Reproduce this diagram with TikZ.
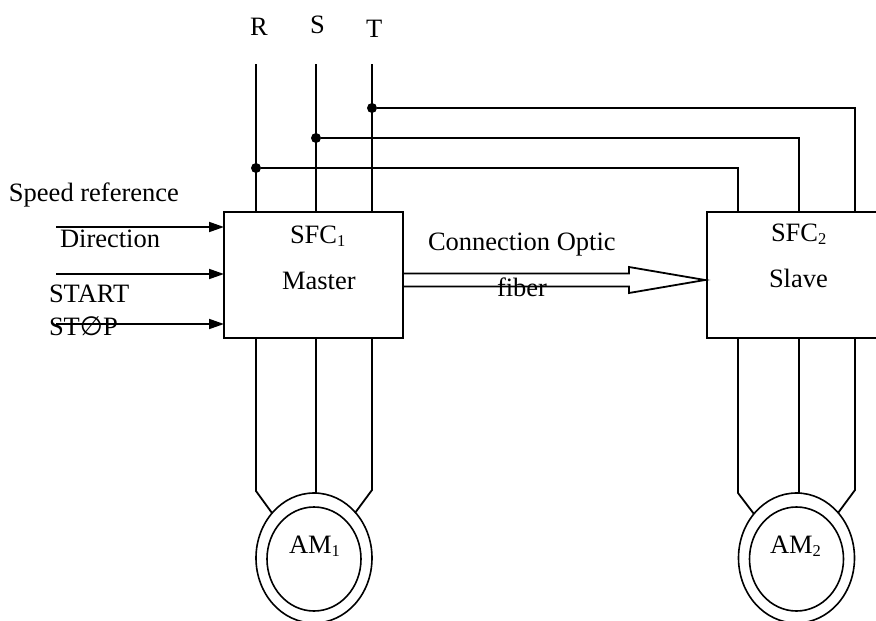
\documentclass[tikz,border=0pt]{standalone}
\usepackage{fontspec}
\setmainfont{Liberation Serif}
\newfontfamily\symbfont{DejaVu Sans}
\usetikzlibrary{arrows.meta,shapes.geometric}
\tikzset{
  wire/.style={line width=1.8pt,black},
  feed/.style={wire,-{Triangle[length=15pt,width=10pt]}},
  blockbox/.style={draw=black,line width=1.8pt,minimum width=179pt,minimum height=126pt,inner sep=0pt,outer sep=0pt},
  ringout/.style={draw=black,ellipse,line width=1.6pt,minimum width=116pt,minimum height=130pt,inner sep=0pt,outer sep=0pt},
  ringin/.style={draw=black,ellipse,line width=1.6pt,minimum width=94pt,minimum height=104pt,inner sep=0pt,outer sep=0pt},
  lbl/.style={anchor=base west,inner sep=0pt,outer sep=0pt,font=\fontsize{26.5pt}{28pt}\selectfont},
  junction/.style={circle,fill=black,minimum size=10pt,inner sep=0pt,outer sep=0pt}
}
\newcommand{\subs}[1]{\raisebox{-3.5pt}{\fontsize{16.5pt}{18pt}\selectfont #1}}
\begin{document}
\begin{tikzpicture}[x=1pt,y=-1pt]
\useasboundingbox (0,0) rectangle (876,621);
% blocks
\node[blockbox] (sfcA) at (313.5,275) {};
\node[blockbox,minimum width=176pt] (sfcB) at (795,275) {};
% motors
\node[ringout] (mA) at (314,558) {};
\node[ringin] (mAi) at (314,559) {};
\node[ringout] (mB) at (796.5,558) {};
\node[ringin] (mBi) at (796.5,559) {};
% supply junctions
\node[junction] (jR) at (256,168) {};
\node[junction] (jS) at (316,138) {};
\node[junction] (jT) at (372,108) {};
\coordinate (tR) at (256,64);
\coordinate (tS) at (316,64);
\coordinate (tT) at (372,64);
\coordinate (bR) at (256,212);
\coordinate (bS) at (316,212);
\coordinate (bT) at (372,212);
\draw[wire] (tR) -- (bR);
\draw[wire] (tS) -- (bS);
\draw[wire] (tT) -- (bT);
% branches to slave
\coordinate (cR) at (738,212);
\coordinate (cS) at (799,212);
\coordinate (cT) at (855,212);
\draw[wire] (jR) -| (cR);
\draw[wire] (jS) -| (cS);
\draw[wire] (jT) -| (cT);
% outputs to motors
\coordinate (oR) at (256,338);
\coordinate (oS) at (316,338);
\coordinate (oT) at (372,338);
\coordinate (kR) at (256,491);
\coordinate (kS) at (316,493);
\coordinate (kT) at (372,490);
\coordinate (eR) at (272,513);
\coordinate (eT) at (355,513);
\draw[wire] (oR) -- (kR) -- (eR);
\draw[wire] (oS) -- (kS);
\draw[wire] (oT) -- (kT) -- (eT);
\coordinate (pR) at (738,338);
\coordinate (pS) at (799,338);
\coordinate (pT) at (855,338);
\coordinate (qR) at (738,493);
\coordinate (qS) at (799,493);
\coordinate (qT) at (855,490);
\coordinate (fR) at (754,514);
\coordinate (fT) at (838,513);
\draw[wire] (pR) -- (qR) -- (fR);
\draw[wire] (pS) -- (qS);
\draw[wire] (pT) -- (qT) -- (fT);
% inputs
\coordinate (i1) at (56,227);
\coordinate (i2) at (56,274);
\coordinate (i3) at (56,324);
\draw[feed] (i1) -- (sfcA.west |- i1);
\draw[feed] (i2) -- (sfcA.west |- i2);
\draw[feed] (i3) -- (sfcA.west |- i3);
% hollow arrow
\coordinate (h1) at (403,273.5);
\coordinate (h2) at (629,273.5);
\coordinate (h3) at (629,267);
\coordinate (h4) at (705,280);
\coordinate (h5) at (629,293);
\coordinate (h6) at (629,286.5);
\coordinate (h7) at (403,286.5);
\draw[wire,line join=miter] (h1) -- (h2) -- (h3) -- (h4) -- (h5) -- (h6) -- (h7);
% labels
\node[lbl] (lR) at (250,35) {R};
\node[lbl] (lS) at (310,34) {S};
\node[lbl] (lT) at (366,37) {T};
\node[lbl] (lSpeed) at (9,201) {Speed reference};
\node[lbl] (lDir) at (60,247) {Direction};
\node[lbl] (lStart) at (49,302) {START};
\node[lbl] (lStop) at (49,335) {ST{\symbfont ∅}P};
\node[lbl] (lSfcA) at (290,243) {SFC\subs{1}};
\node[lbl] (lMaster) at (282,289) {Master};
\node[lbl] (lConn) at (428,250) {Connection Optic};
\node[lbl] (lFiber) at (497,296) {fiber};
\node[lbl] (lSfcB) at (771,241) {SFC\subs{2}};
\node[lbl] (lSlave) at (769,287) {Slave};
\node[lbl] (lAmA) at (289,553) {AM\subs{1}};
\node[lbl] (lAmB) at (770,553) {AM\subs{2}};
\end{tikzpicture}
\end{document}
